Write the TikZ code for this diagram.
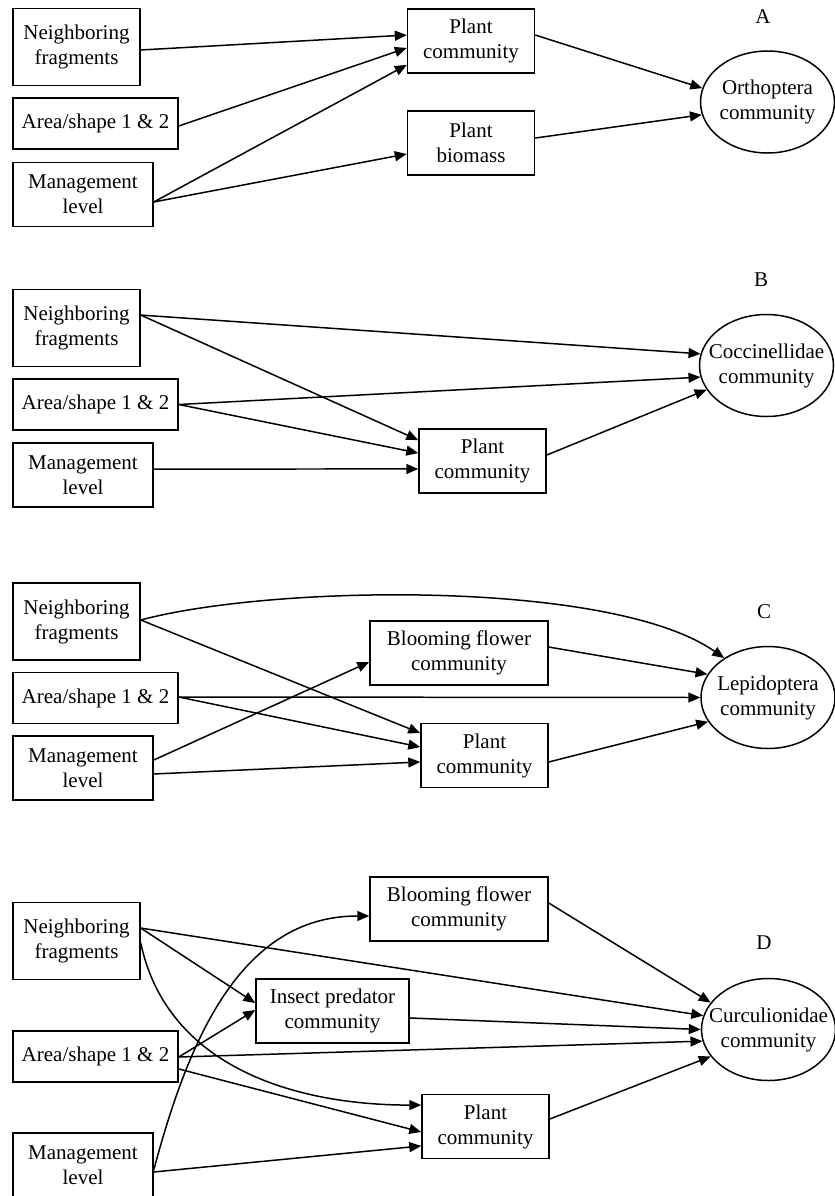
\documentclass[tikz,border=0pt]{standalone}
\usepackage{fontspec}
\setmainfont{Liberation Serif}
\usetikzlibrary{arrows.meta,shapes.geometric}

\begin{document}
\begin{tikzpicture}
        % 结点样式
        [x=1bp,y=1bp,line width=1.5pt,font=\fontsize{21bp}{25bp}\selectfont,
        NFNode/.style={rectangle,draw,align=center,inner sep=0pt,minimum width=127bp,minimum height=77bp},
        ASNode/.style={rectangle,draw,align=center,inner sep=0pt,minimum width=165bp,minimum height=51bp},
        MLNode/.style={rectangle,draw,align=center,inner sep=0pt,minimum width=140bp,minimum height=64bp},
        PCNode/.style={rectangle,draw,align=center,inner sep=0pt,minimum width=127bp,minimum height=64bp},
        BFNode/.style={rectangle,draw,align=center,inner sep=0pt,minimum width=178bp,minimum height=64bp},
        IPNode/.style={rectangle,draw,align=center,inner sep=0pt,minimum width=153bp,minimum height=64bp},
        ComNode/.style={ellipse,draw,inner sep=0pt,minimum width=134bp,minimum height=102bp},
        TxtNode/.style={align=center,inner sep=0pt},
        arr/.style={-{Triangle[length=12pt,width=10pt]}}]

        % 画布大小
        \useasboundingbox (0,0) rectangle (835,-1196);

        % 左列结点, 四幅图
        \foreach \p/\ya/\yb/\yc in {A/-47/-123.5/-194.5,B/-328/-404.5/-475,C/-621.5/-698/-768,D/-941/-1056.5/-1165}{
        \node[NFNode] (nf\p) at (76.5,\ya) {Neighboring\\fragments};
        \node[ASNode] (as\p) at (95.5,\yb) {Area/shape 1 \& 2};
        \node[MLNode] (ml\p) at (83,\yc) {Management\\level};
        }

        % 图A
        \node[PCNode] (pcA) at (471,-41) {Plant\\community};
        \node[PCNode] (pbA) at (471,-143) {Plant\\biomass};
        \node[ComNode] (orA) at (767.5,-102) {};
        \node[TxtNode] (orAt) at (orA) {Orthoptera\\community};
        \node[TxtNode] (lbA) at (763,-17) {A};

        \draw[arr] ([yshift=-3]nfA.east) -- ([yshift=6]pcA.west);
        \draw[arr] ([yshift=-2.5]asA.east) -- ([yshift=-7]pcA.west);
        \draw[arr] ([yshift=-7.5]mlA.east) -- ([yshift=-24]pcA.west);
        \draw[arr] ([yshift=-7.5]mlA.east) -- ([yshift=-11]pbA.west);
        \draw[arr] ([yshift=6]pcA.east) -- (orA.168);
        \draw[arr] ([yshift=5]pbA.east) -- (orA.191);

        % 图B
        \node[PCNode] (pcB) at (482.5,-461) {Plant\\community};
        \node[ComNode] (coB) at (766.5,-365.5) {};
        \node[TxtNode] (coBt) at (coB) {Coccinellidae\\community};
        \node[TxtNode] (lbB) at (761,-280) {B};

        \draw[arr] ([yshift=13]nfB.east) -- (coB.170);
        \draw[arr] ([yshift=13]nfB.east) -- ([yshift=21]pcB.west);
        \draw[arr] (asB.east) -- (coB.190);
        \draw[arr] (asB.east) -- ([yshift=8]pcB.west);
        \draw[arr] ([yshift=6]mlB.east) -- ([yshift=-8]pcB.west);
        \draw[arr] ([yshift=6]pcB.east) -- (coB.202);

        % 图C
        \node[BFNode] (bfC) at (459,-653) {Blooming flower\\community};
        \node[PCNode] (pcC) at (484.5,-755.5) {Plant\\community};
        \node[ComNode] (leC) at (768,-697.5) {};
        \node[TxtNode] (leCt) at (leC) {Lepidoptera\\community};
        \node[TxtNode] (lbC) at (764,-612) {C};

        \draw[arr] ([yshift=1.5]nfC.east) to[out=15,in=145,looseness=0.6] (leC.138);
        \draw[arr] ([yshift=1.5]nfC.east) -- ([yshift=22.5]pcC.west);
        \draw[arr] ([yshift=1]asC.east) -- (leC.180);
        \draw[arr] ([yshift=1]asC.east) -- ([yshift=8.5]pcC.west);
        \draw[arr] ([yshift=8]mlC.east) -- ([yshift=-9]bfC.west);
        \draw[arr] ([yshift=-6]mlC.east) -- ([yshift=-6.5]pcC.west);
        \draw[arr] ([yshift=6]bfC.east) -- (leC.159);
        \draw[arr] ([yshift=-6.5]pcC.east) -- (leC.202);

        % 图D
        \node[IPNode] (ipD) at (332.5,-1011) {Insect predator\\community};
        \node[BFNode] (bfD) at (459,-909) {Blooming flower\\community};
        \node[PCNode] (pcD) at (485.5,-1126.5) {Plant\\community};
        \node[ComNode] (cuD) at (768.5,-1029.5) {};
        \node[TxtNode] (cuDt) at (cuD) {Curculionidae\\community};
        \node[TxtNode] (lbD) at (764,-943) {D};

        \draw[arr] ([yshift=13]nfD.east) -- (cuD.168);
        \draw[arr] ([yshift=13]nfD.east) -- ([yshift=8]ipD.west);
        \draw[arr] ([yshift=-2]nfD.east) to[out=-78,in=180] ([yshift=21.5]pcD.west);
        \draw[arr] ([yshift=-0.5]asD.east) -- ([yshift=1]ipD.west);
        \draw[arr] ([yshift=-0.5]asD.east) -- (cuD.190);
        \draw[arr] ([yshift=-12.5]asD.east) -- ([yshift=-5.5]pcD.west);
        \draw[arr] ([yshift=-5]mlD.east) to[out=75,in=180] ([yshift=-7]bfD.west);
        \draw[arr] ([yshift=-7]mlD.east) -- ([yshift=-19.5]pcD.west);
        \draw[arr] ([yshift=6]bfD.east) -- (cuD.155);
        \draw[arr] ([yshift=-7]ipD.east) -- (cuD.180);
        \draw[arr] ([yshift=7.5]pcD.east) -- (cuD.205);
\end{tikzpicture}
\end{document}
